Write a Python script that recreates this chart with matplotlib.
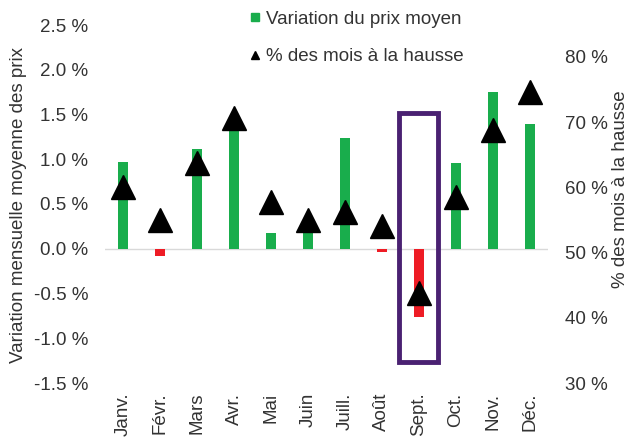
import matplotlib.pyplot as plt
from matplotlib.lines import Line2D
from matplotlib.patches import Rectangle

# Monthly data
months = ["Janv.", "Févr.", "Mars", "Avr.", "Mai", "Juin",
          "Juill.", "Août", "Sept.", "Oct.", "Nov.", "Déc."]
avg_change = [0.97, -0.08, 1.12, 1.42, 0.18, 0.22,
              1.24, -0.04, -0.76, 0.96, 1.75, 1.39]          # %
share_up = [60.1, 55.0, 63.7, 70.6, 57.8, 55.0,
            56.2, 54.1, 43.8, 58.5, 68.8, 74.6]              # %

left_ticks = [-1.5, -1.0, -0.5, 0.0, 0.5, 1.0, 1.5, 2.0, 2.5]
right_ticks = [30, 40, 50, 60, 70, 80]

green = "#19ad4c"
red = "#ee1c25"
purple = "#4a2172"
text_col = "#333333"

plt.rcParams['font.family'] = ['Liberation Sans', 'DejaVu Sans']
fs = 13.5

fig = plt.figure(figsize=(6.35, 4.43), dpi=100)
ax = fig.add_axes([105 / 635, 60 / 443, 443 / 635, 358 / 443])
ax2 = ax.twinx()

x = list(range(len(months)))
colors = [green if v >= 0 else red for v in avg_change]
ax.bar(x, avg_change, width=0.27, color=colors, zorder=2)
ax.axhline(0, color="#d9d9d9", linewidth=1.0, zorder=1)

ax2.plot(x, share_up, linestyle="none", marker="^", markersize=17.5,
         color="black", zorder=3)

# highlight box around September
ax.add_patch(Rectangle((7.47, -1.27), 1.04, 2.79, fill=False,
                       edgecolor=purple, linewidth=3.5, zorder=4,
                       clip_on=False))

ax.set_xlim(-0.5, 11.5)
ax.set_ylim(-1.5, 2.5)
ax2.set_ylim(30, 84.9)

ax.set_xticks(x)
ax.set_xticklabels(months, rotation=90, fontsize=fs, color=text_col)
ax.set_yticks(left_ticks)
ax.set_yticklabels([f"{t:.1f} %" for t in left_ticks], fontsize=fs,
                   color=text_col)
ax2.set_yticks(right_ticks)
ax2.set_yticklabels([f"{t} %" for t in right_ticks], fontsize=fs,
                    color=text_col)

ax.tick_params(axis='y', length=0, pad=12)
ax.tick_params(axis='x', length=0, pad=7)
ax2.tick_params(axis='y', length=0, pad=12)

for a in (ax, ax2):
    for s in a.spines.values():
        s.set_visible(False)

ax.set_ylabel("Variation mensuelle moyenne des prix", fontsize=fs,
              color=text_col, va="center")
ax2.set_ylabel("% des mois à la hausse", fontsize=fs, color=text_col,
               va="center")
ax.yaxis.set_label_coords(-0.196, 0.497)
ax2.yaxis.set_label_coords(1.163, 0.54)

# legend
handles = [
    Line2D([], [], linestyle="none", marker="s", markersize=6,
           color=green),
    Line2D([], [], linestyle="none", marker="^", markersize=6,
           color="black"),
]
labels = ["Variation du prix moyen", "% des mois à la hausse"]
fig.legend(handles, labels, loc="upper left",
           bbox_to_anchor=(243 / 635, 1 - 3 / 443), frameon=False,
           fontsize=fs, handlelength=0.5, handletextpad=0.3,
           labelspacing=1.1, labelcolor=text_col, borderaxespad=0)

fig.savefig("out.png", dpi=100)
